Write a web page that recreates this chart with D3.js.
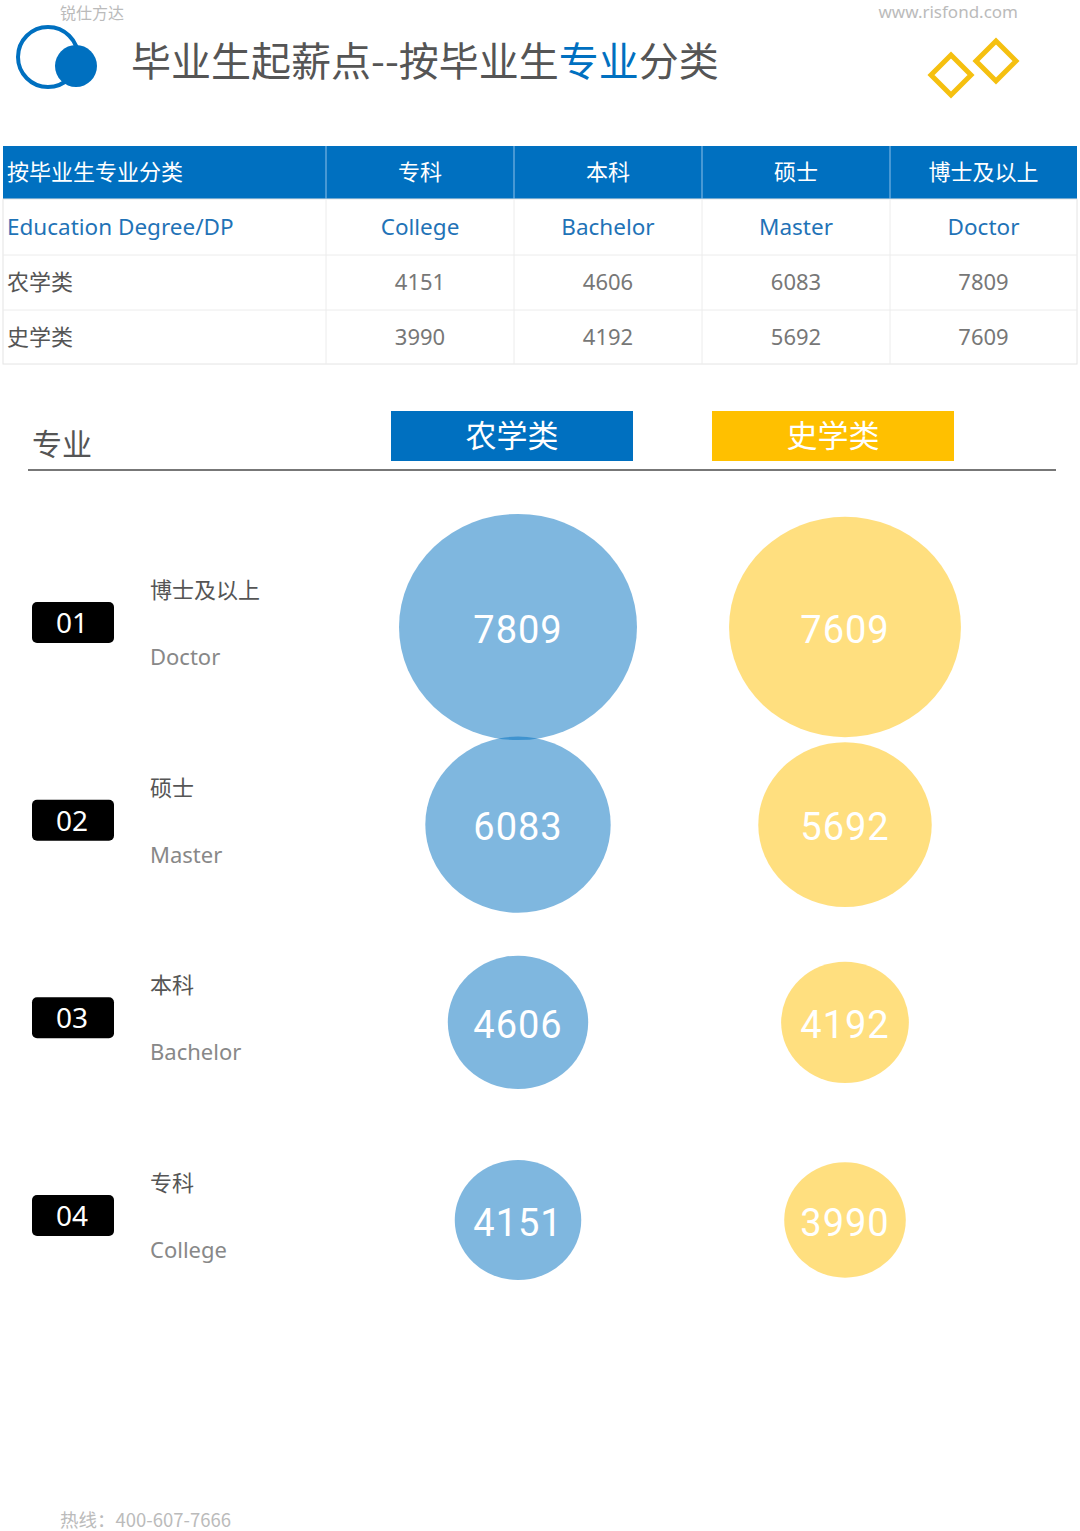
<!DOCTYPE html>
<html>
<head>
<meta charset="utf-8">
<script src="https://cdn.jsdelivr.net/npm/d3@7"></script>
<style>
  body { margin: 0; background: #fff; }
  svg { display: block; }
  text { font-family: "Noto Sans", "Noto Sans CJK SC", sans-serif; }
</style>
</head>
<body>
<div id="chart"></div>
<script>
// table / chart data
const levelsCN = ['专科', '本科', '硕士', '博士及以上'];
const levelsEN = ['College', 'Bachelor', 'Master', 'Doctor'];
const majors = ['农学类', '史学类'];
const agriValues = [4151, 4606, 6083, 7809];
const histValues = [3990, 4192, 5692, 7609];

// rows of the bubble chart, top to bottom
const rowIds = ['01', '02', '03', '04'];
const rowCN = ['博士及以上', '硕士', '本科', '专科'];
const rowEN = ['Doctor', 'Master', 'Bachelor', 'College'];

const width = 1080, height = 1531;
const BLUE = '#0070c0', YELLOW = '#ffc000';
const cnFont = '"Noto Sans CJK SC", sans-serif';

const svg = d3.select('#chart').append('svg')
    .attr('width', width)
    .attr('height', height);

// ---- header ----
svg.append('text').attr('x', 60).attr('y', 19)
    .attr('font-size', 16).attr('fill', '#bbb').style('font-family', cnFont)
    .text('锐仕方达');
svg.append('text').attr('x', 1018).attr('y', 18)
    .attr('text-anchor', 'end').attr('font-size', 17).attr('fill', '#bbb')
    .text('www.risfond.com');

// logo
svg.append('circle').attr('cx', 48).attr('cy', 57).attr('r', 30)
    .attr('fill', 'none').attr('stroke', BLUE).attr('stroke-width', 4);
svg.append('circle').attr('cx', 76).attr('cy', 66).attr('r', 21)
    .attr('fill', BLUE);

const title = svg.append('text').attr('x', 131).attr('y', 76)
    .attr('font-size', 40).attr('fill', '#555').style('font-family', cnFont);
title.append('tspan').text('毕业生起薪点--按毕业生');
title.append('tspan').attr('fill', BLUE).text('专业');
title.append('tspan').text('分类');

// diamonds
[[951, 75], [996, 61]].forEach(([cx, cy]) => {
  const h = 20;
  svg.append('path')
      .attr('d', `M${cx},${cy - h}L${cx + h},${cy}L${cx},${cy + h}L${cx - h},${cy}Z`)
      .attr('fill', 'none').attr('stroke', '#f5c010').attr('stroke-width', 5)
      .attr('stroke-linejoin', 'miter');
});

// ---- table ----
const colEdges = [3, 326, 514, 702, 890, 1077];
const rowEdges = [146, 199, 255, 310, 364];
const table = svg.append('g');

table.append('rect').attr('x', 3).attr('y', rowEdges[0])
    .attr('width', colEdges[5] - 3).attr('height', rowEdges[1] - rowEdges[0])
    .attr('fill', BLUE);
table.append('rect').attr('x', 3).attr('y', rowEdges[1])
    .attr('width', colEdges[5] - 3).attr('height', rowEdges[4] - rowEdges[1])
    .attr('fill', 'none').attr('stroke', '#e4e4e4');
rowEdges.slice(2, 4).forEach(y => {
  table.append('line').attr('x1', 3).attr('x2', colEdges[5])
      .attr('y1', y).attr('y2', y).attr('stroke', '#ececec');
});
colEdges.slice(1, 5).forEach(x => {
  table.append('line').attr('x1', x).attr('x2', x)
      .attr('y1', rowEdges[0]).attr('y2', rowEdges[1]).attr('stroke', '#8ec0e8');
  table.append('line').attr('x1', x).attr('x2', x)
      .attr('y1', rowEdges[1]).attr('y2', rowEdges[4]).attr('stroke', '#ececec');
});

const colMid = i => (colEdges[i + 1] + colEdges[i + 2]) / 2;
const rowMid = r => (rowEdges[r] + rowEdges[r + 1]) / 2;

// header row
table.append('text').attr('x', 7).attr('y', rowMid(0)).attr('dy', '0.36em')
    .attr('font-size', 22).attr('fill', '#fff').style('font-family', cnFont)
    .text('按毕业生专业分类');
table.selectAll('.hcn').data(levelsCN).enter().append('text')
    .attr('x', (d, i) => colMid(i)).attr('y', rowMid(0)).attr('dy', '0.36em')
    .attr('text-anchor', 'middle').attr('font-size', 22).attr('fill', '#fff')
    .style('font-family', cnFont).text(d => d);

// english row
table.append('text').attr('x', 7).attr('y', rowMid(1)).attr('dy', '0.36em')
    .attr('font-size', 22.5).attr('fill', '#1f73b7')
    .text('Education Degree/DP');
table.selectAll('.hen').data(levelsEN).enter().append('text')
    .attr('x', (d, i) => colMid(i)).attr('y', rowMid(1)).attr('dy', '0.36em')
    .attr('text-anchor', 'middle').attr('font-size', 22.5).attr('fill', '#1f73b7')
    .text(d => d);

// value rows
[agriValues, histValues].forEach((vals, r) => {
  table.append('text').attr('x', 7).attr('y', rowMid(r + 2)).attr('dy', '0.36em')
      .attr('font-size', 22).attr('fill', '#555').style('font-family', cnFont)
      .text(majors[r]);
  table.selectAll('.v' + r).data(vals).enter().append('text')
      .attr('x', (d, i) => colMid(i)).attr('y', rowMid(r + 2)).attr('dy', '0.36em')
      .attr('text-anchor', 'middle').attr('font-size', 22).attr('fill', '#777')
      .text(d => d);
});

// ---- bubble chart ----
svg.append('text').attr('x', 32).attr('y', 455)
    .attr('font-size', 30).attr('fill', '#555').style('font-family', cnFont)
    .text('专业');
svg.append('line').attr('x1', 28).attr('x2', 1056).attr('y1', 470).attr('y2', 470)
    .attr('stroke', '#777').attr('stroke-width', 2);

const x = d3.scalePoint().domain(majors).range([518, 845]);
const legendColors = [BLUE, YELLOW];
majors.forEach((m, i) => {
  const cx = i === 0 ? 512 : 833;
  svg.append('rect').attr('x', cx - 121).attr('y', 411)
      .attr('width', 242).attr('height', 50).attr('fill', legendColors[i]);
  svg.append('text').attr('x', cx).attr('y', 436).attr('dy', '0.36em')
      .attr('text-anchor', 'middle').attr('font-size', 31).attr('fill', '#fff')
      .style('font-family', cnFont).text(m);
});

const y = d3.scalePoint().domain(rowIds).range([627, 1220]);
const r = d3.scaleLinear().domain([0, 7809]).range([0, 119]);
const squash = 0.95; // bubbles are drawn slightly flattened in the reference

// rows ordered doctor -> college, values stored college -> doctor
const rows = rowIds.map((id, i) => ({
  id, cn: rowCN[i], en: rowEN[i],
  agri: agriValues[3 - i], hist: histValues[3 - i]
}));

const rowG = svg.selectAll('.row').data(rows).enter().append('g')
    .attr('class', 'row');

rowG.append('rect')
    .attr('x', 32).attr('y', d => y(d.id) - 25)
    .attr('width', 82).attr('height', 41).attr('rx', 5)
    .attr('fill', '#000');
rowG.append('text')
    .attr('x', 72).attr('y', d => y(d.id) - 4).attr('dy', '0.36em')
    .attr('text-anchor', 'middle').attr('font-size', 28).attr('fill', '#fff')
    .text(d => d.id);
rowG.append('text')
    .attr('x', 150).attr('y', d => y(d.id) - 37).attr('dy', '0.36em')
    .attr('font-size', 22).attr('fill', '#555').style('font-family', cnFont)
    .text(d => d.cn);
rowG.append('text')
    .attr('x', 150).attr('y', d => y(d.id) + 30).attr('dy', '0.36em')
    .attr('font-size', 22).attr('fill', '#888')
    .text(d => d.en);

const series = [
  {key: 'agri', name: majors[0], color: BLUE},
  {key: 'hist', name: majors[1], color: YELLOW}
];

series.forEach(s => {
  const g = svg.append('g');
  g.selectAll('ellipse').data(rows).enter().append('ellipse')
      .attr('cx', x(s.name)).attr('cy', d => y(d.id))
      .attr('rx', d => r(d[s.key]))
      .attr('ry', d => r(d[s.key]) * squash)
      .attr('fill', s.color).attr('fill-opacity', 0.5);
  g.selectAll('text').data(rows).enter().append('text')
      .attr('x', x(s.name)).attr('y', d => y(d.id) + 2).attr('dy', '0.36em')
      .attr('text-anchor', 'middle').attr('font-size', 38).attr('fill', '#fff')
      .style('font-family', 'Roboto, sans-serif').attr('letter-spacing', 1)
      .text(d => d[s.key]);
});

// footer
svg.append('text').attr('x', 60).attr('y', 1527)
    .attr('font-size', 18.5).attr('fill', '#bbb').style('font-family', cnFont)
    .text('热线：400-607-7666');
</script>
</body>
</html>
